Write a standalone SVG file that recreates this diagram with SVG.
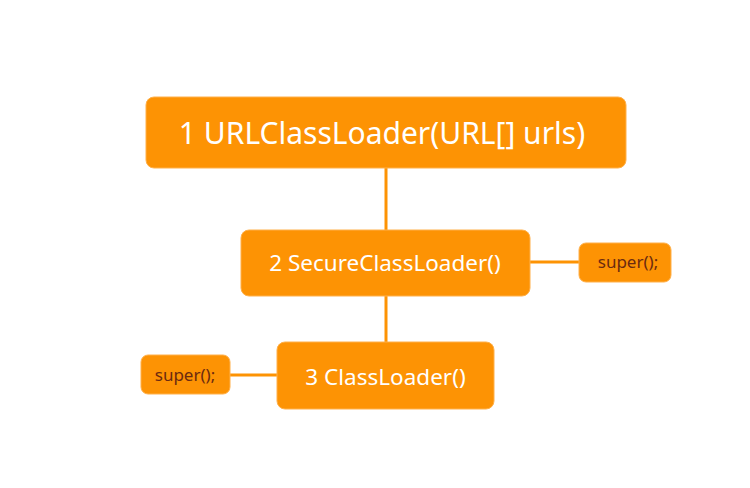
<svg xmlns="http://www.w3.org/2000/svg" width="750" height="488" viewBox="0 0 750 488">
<style>
.n{fill:#FD9304;stroke:#FFB04A;stroke-width:1}
.t{font-family:"Noto Sans","Open Sans",sans-serif;fill:#fff;text-anchor:middle;dominant-baseline:central}
.s{font-family:"Noto Sans","Open Sans",sans-serif;fill:#6B2A10;text-anchor:middle;dominant-baseline:central;font-size:17px}
.c{stroke:#FD9304;stroke-width:3;fill:none}
</style>
<rect width="750" height="488" fill="#fff"/>
<g id="connectors">
<line class="c" x1="386" y1="168" x2="386" y2="230"/>
<line class="c" x1="386" y1="296" x2="386" y2="342"/>
<line class="c" x1="530" y1="262" x2="579" y2="262"/>
<line class="c" x1="230" y1="375" x2="277" y2="375"/>
</g>
<g id="n1"><rect class="n" x="146" y="97" width="480" height="71" rx="8"/><text class="t" x="382" y="132" font-size="30">1 URLClassLoader(URL[] urls)</text></g>
<g id="n2"><rect class="n" x="241" y="230" width="289" height="66" rx="8"/><text class="t" x="385" y="262" font-size="22.5">2 SecureClassLoader()</text></g>
<g id="n3"><rect class="n" x="277" y="342" width="217" height="67" rx="8"/><text class="t" x="385.5" y="376" font-size="22.5">3 ClassLoader()</text></g>
<g id="n4"><rect class="n" x="579" y="243" width="92" height="39" rx="7"/><text class="s" x="628" y="261">super();</text></g>
<g id="n5"><rect class="n" x="141" y="355" width="89" height="39" rx="7"/><text class="s" x="185" y="374">super();</text></g>
</svg>
